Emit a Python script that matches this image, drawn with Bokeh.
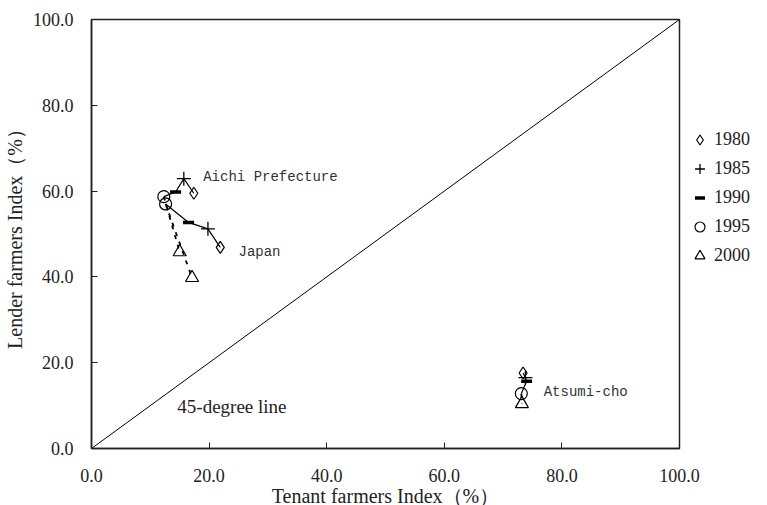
from bokeh.plotting import figure
from bokeh.models import Range1d, NumeralTickFormatter, FixedTicker, Legend, LegendItem
from bokeh.core.properties import value
from bokeh.embed import file_html
from bokeh.resources import INLINE

# ---- data ----
years = ["1980", "1985", "1990", "1995", "2000"]
aichi_x = [17.4, 15.7, 14.3, 12.3, 15.0]
aichi_y = [59.5, 62.9, 59.8, 58.7, 45.8]
japan_x = [21.9, 19.8, 16.5, 12.6, 17.1]
japan_y = [46.9, 51.2, 52.7, 57.0, 39.8]
atsumi_x = [73.4, 73.8, 74.0, 73.1, 73.2]
atsumi_y = [17.6, 16.5, 15.7, 12.8, 10.4]
diag = [0, 100]
ticks = [0, 20, 40, 60, 80, 100]
region_names = ["Aichi Prefecture", "Japan", "Atsumi-cho"]
label_x = [19.0, 25.0, 76.9]
label_y = [63.2, 45.7, 13.1]
note_text = "45-degree line"
note_x = [14.6]
note_y = [9.8]

SERIF = "Liberation Serif"
MONO = "Liberation Mono"
FS = "18px"
FS_LABEL = "20px"

p = figure(frame_width=588, frame_height=429, output_backend="svg", toolbar_location=None,
           x_range=Range1d(0, 100), y_range=Range1d(0, 100),
           min_border_left=91, min_border_right=0, min_border_top=19, min_border_bottom=40)
p.xgrid.visible = False
p.ygrid.visible = False
p.outline_line_color = "#222222"
p.outline_line_width = 1.5
p.background_fill_color = "white"
p.border_fill_color = "white"

for ax in (p.xaxis[0], p.yaxis[0]):
    ax.ticker = FixedTicker(ticks=ticks)
    ax.formatter = NumeralTickFormatter(format="0.0")
    ax.major_tick_in = 6
    ax.major_tick_out = 0
    ax.minor_tick_line_color = None
    ax.axis_line_color = "#222222"
    ax.axis_line_width = 1.5
    ax.major_tick_line_color = "#222222"
    ax.major_label_text_font = SERIF
    ax.major_label_text_font_size = FS
    ax.major_label_text_color = "#222222"
    ax.axis_label_text_font = SERIF
    ax.axis_label_text_font_size = FS_LABEL
    ax.axis_label_text_font_style = "normal"
    ax.axis_label_text_color = "#222222"

p.xaxis.axis_label = "Tenant farmers Index（%）"
p.yaxis.axis_label = "Lender farmers Index（%）"
p.xaxis.major_label_standoff = 20
p.xaxis.axis_label_standoff = 0
p.yaxis.major_label_standoff = 18
p.yaxis.axis_label_standoff = 4

# 45-degree line
p.line(diag, diag, line_color="black", line_width=1)

# connecting lines: solid 1980-1995, dashed 1995-2000
for xs, ys in ((aichi_x, aichi_y), (japan_x, japan_y), (atsumi_x, atsumi_y)):
    p.line(xs[:4], ys[:4], line_color="black", line_width=1.2)
    p.line(xs[3:], ys[3:], line_color="black", line_width=1.8, line_dash="4 6")

marker_specs = [
    dict(marker="diamond", size=12, line_width=1.2),
    dict(marker="cross", size=14, line_width=1.3),
    dict(marker="dash", size=11, line_width=3.5),
    dict(marker="circle", size=12, line_width=1.2),
    dict(marker="triangle", size=13, line_width=1.2),
]

items = []
for i, yr in enumerate(years):
    xs = [aichi_x[i], japan_x[i], atsumi_x[i]]
    ys = [aichi_y[i], japan_y[i], atsumi_y[i]]
    spec = marker_specs[i]
    r = p.scatter(xs, ys, line_color="black", fill_color=None, **spec)
    items.append(LegendItem(label=yr, renderers=[r]))

legend = Legend(items=items, location=(8, 180), orientation="vertical",
                label_text_font=SERIF, label_text_font_size=FS, label_text_color="#222222",
                glyph_width=25, glyph_height=25, label_height=25, label_standoff=2,
                spacing=4, padding=0, margin=0, border_line_color=None,
                background_fill_alpha=0)
p.add_layout(legend, "right")

# region labels
p.text(label_x, label_y, text=region_names, text_font=value(MONO), text_font_size="14px",
       text_baseline="middle", text_align="left", text_color="#333333")
p.text(note_x, note_y, text=[note_text], text_font=value(SERIF), text_font_size="19px",
       text_baseline="middle", text_align="left", text_color="#222222")

open("out.html", "w").write(file_html(p, INLINE))
